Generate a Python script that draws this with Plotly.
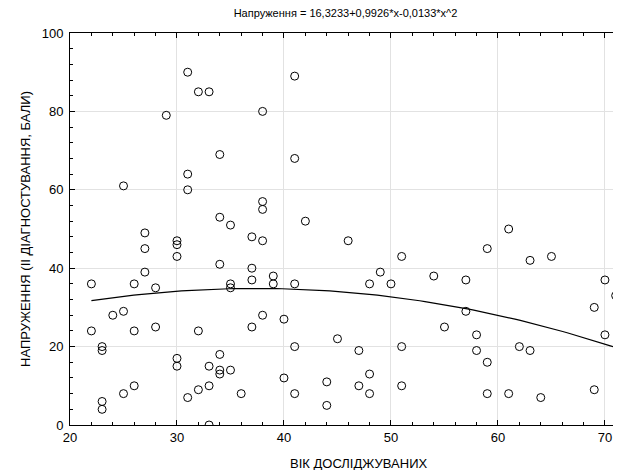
import numpy as np
import plotly.graph_objects as go

# Age (x) and tension score (y)
age = [31, 32, 33, 29, 34, 31, 31, 25, 34, 35,
       41, 38, 41, 38, 38, 42,
       22, 22, 23, 23, 23, 23, 24, 25, 25, 26, 26, 26,
       27, 27, 27, 28, 28, 30, 30, 30, 30, 30,
       31, 32, 32, 33, 33, 33, 34, 34, 34, 34,
       35, 35, 35, 36, 37, 37, 37, 37,
       38, 39, 39, 41, 38, 40, 41, 40, 41,
       44, 44, 45, 46, 47, 47, 48, 48, 48, 49, 50, 51, 51, 51, 54, 55,
       61, 59, 63, 65, 57, 57, 58, 58, 59, 62, 63, 59, 61, 64, 69, 69, 70, 70, 71]
tension = [90, 85, 85, 79, 69, 64, 60, 61, 53, 51,
           89, 80, 68, 57, 55, 52,
           36, 24, 20, 19, 6, 4, 28, 29, 8, 36, 24, 10,
           49, 45, 39, 35, 25, 47, 46, 43, 17, 15,
           7, 24, 9, 15, 10, 0, 41, 18, 14, 13,
           36, 35, 14, 8, 48, 40, 37, 25,
           47, 38, 36, 36, 28, 27, 20, 12, 8,
           11, 5, 22, 47, 19, 10, 36, 13, 8, 39, 36, 43, 20, 10, 38, 25,
           50, 45, 42, 43, 37, 29, 23, 19, 16, 20, 19, 8, 8, 7, 9, 30, 37, 23, 33]

# Quadratic fit coefficients shown in the title
b0, b1, b2 = 16.3233, 0.9926, -0.0133
fit_x = np.linspace(min(age), max(age), 100)
fit_y = b0 + b1 * fit_x + b2 * fit_x ** 2

x_ticks = [20, 30, 40, 50, 60, 70]
y_ticks = [0, 20, 40, 60, 80, 100]

fig = go.Figure()
fig.add_trace(go.Scatter(
    x=fit_x, y=fit_y, mode="lines",
    line=dict(color="black", width=1.2), hoverinfo="skip", showlegend=False))
fig.add_trace(go.Scatter(
    x=age, y=tension, mode="markers",
    marker=dict(symbol="circle-open", size=8, color="black", line=dict(width=1)),
    showlegend=False))

# the page body has an 8px margin, so the figure is sized to fit the window
fig.update_layout(
    width=613, height=462,
    margin=dict(l=62, r=0, t=25, b=45, autoexpand=False),
    paper_bgcolor="white", plot_bgcolor="white",
    font=dict(family="Liberation Sans, Arial, sans-serif", size=13, color="black"),
    title=dict(text="Напруження = 16,3233+0,9926*x-0,0133*x^2",
               x=0.5, xref="paper", xanchor="center",
               y=1 - 5 / 462, yref="container", yanchor="middle",
               font=dict(size=11)),
    annotations=[dict(text="ВІК ДОСЛІДЖУВАНИХ", xref="paper", yref="paper",
                      x=0.523, y=-0.097, xanchor="center", yanchor="middle",
                      showarrow=False, font=dict(size=13))],
)
fig.update_xaxes(
    range=[20, 71.5], tickvals=x_ticks, ticktext=[str(v) for v in x_ticks],
    showgrid=True, gridcolor="#e2e2e2", gridwidth=1, zeroline=False,
    showline=True, linecolor="black", linewidth=1, mirror="ticks",
    ticks="inside", ticklen=5, tickcolor="black",
    minor=dict(dtick=2, ticks="inside", ticklen=3, tickcolor="black", showgrid=False),
    automargin=False,
)
fig.update_yaxes(
    range=[0, 100], tickvals=y_ticks, ticktext=[str(v) for v in y_ticks],
    showgrid=True, gridcolor="#e2e2e2", gridwidth=1, zeroline=False,
    showline=True, linecolor="black", linewidth=1, mirror=False,
    ticks="inside", ticklen=5, tickcolor="black", ticklabelstandoff=3,
    minor=dict(dtick=4, ticks="inside", ticklen=3, tickcolor="black", showgrid=False),
    title=dict(text="НАПРУЖЕННЯ (ІІ ДІАГНОСТУВАННЯ, БАЛИ)", font=dict(size=13), standoff=8),
    automargin=False,
)

fig.write_html("out.html")
